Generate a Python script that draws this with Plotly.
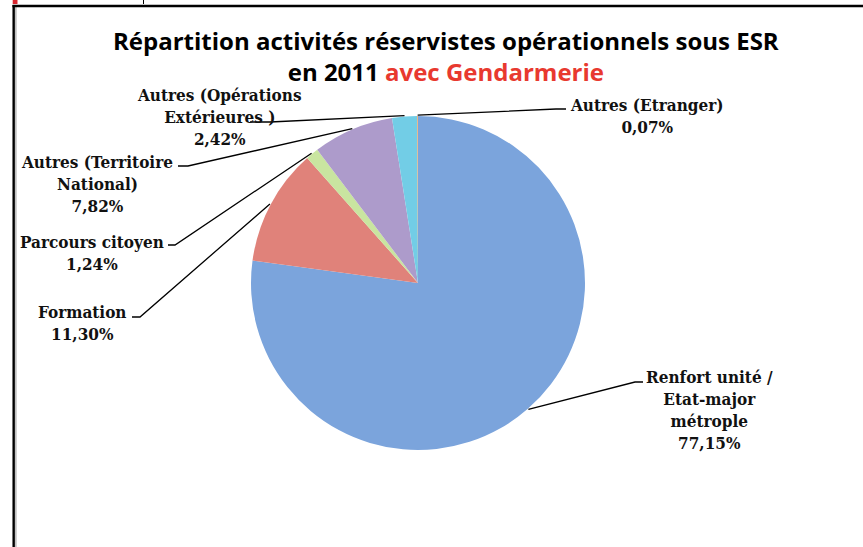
import math
import plotly.graph_objects as go

# ---- data ----
categories = [
    "Renfort unité /<br>Etat-major<br>métrople",
    "Formation",
    "Parcours citoyen",
    "Autres (Territoire<br>National)",
    "Autres (Opérations<br>Extérieures )",
    "Autres (Etranger)",
]
values = [77.15, 11.30, 1.24, 7.82, 2.42, 0.07]
value_labels = ["77,15%", "11,30%", "1,24%", "7,82%", "2,42%", "0,07%"]
colors = ["#7BA4DC", "#E0827A", "#C9E5A0", "#AD9BCB", "#72CDE6", "#F5A25A"]

W, H = 863, 547
CX, CY, R = 418, 283, 167  # pie centre / radius in pixels

def px(x):
    return x / W

def py(y):
    return 1 - y / H

fig = go.Figure(go.Pie(
    labels=[c.replace("<br>", " ") for c in categories],
    values=values,
    sort=False,
    direction="clockwise",
    rotation=0,
    marker=dict(colors=colors, line=dict(width=0)),
    textinfo="none",
    hoverinfo="skip",
    domain=dict(x=[px(CX - R), px(CX + R)], y=[py(CY + R), py(CY - R)]),
    showlegend=False,
))

# label placement (centre x, centre y of text block) and leader-line elbow points
label_pos = [
    (709, 410), (82, 323), (92, 253), (97, 184), (219, 117), (647, 116),
]
elbows = [
    [(643, 382), (635, 382)],
    [(132, 317), (140, 317)],
    [(168, 245), (175, 245)],
    [(178, 166), (188, 166)],
    [(250, 122), (270, 122)],
    [(566, 109), (556, 109)],
]

total = sum(values)
cum = 0.0
shapes = []
annotations = []
for i, v in enumerate(values):
    mid = (cum + v / 2) / total * 2 * math.pi
    cum += v
    ex = CX + R * 1.005 * math.sin(mid)
    ey = CY - R * 1.005 * math.cos(mid)
    (ax0, ay0), (ax1, ay1) = elbows[i]
    path = f"M {px(ax0)},{py(ay0)} L {px(ax1)},{py(ay1)} L {px(ex)},{py(ey)}"
    shapes.append(dict(type="path", path=path, xref="paper", yref="paper",
                       line=dict(color="#000000", width=1.3)))
    lx, ly = label_pos[i]
    annotations.append(dict(
        text=f"{categories[i]}<br>{value_labels[i]}",
        x=px(lx), y=py(ly), xref="paper", yref="paper",
        xanchor="center", yanchor="middle", showarrow=False, align="center",
        font=dict(family="DejaVu Serif Condensed, Liberation Serif, serif",
                  size=17, color="#111111", weight="bold"),
    ))

# page frame of the screenshot
shapes += [
    dict(type="line", xref="paper", yref="paper", x0=px(13.7), x1=px(13.7), y0=py(5), y1=py(547),
         line=dict(color="black", width=2.5)),
    dict(type="line", xref="paper", yref="paper", x0=px(15.8), x1=px(15.8), y0=py(7), y1=py(547),
         line=dict(color="#c0c0c0", width=1.8)),
    dict(type="line", xref="paper", yref="paper", x0=px(12.5), x1=1, y0=py(6), y1=py(6),
         line=dict(color="black", width=2.5)),
    dict(type="rect", xref="paper", yref="paper", x0=px(12.7), x1=px(17.5), y0=py(0), y1=py(4),
         line=dict(width=0), fillcolor="#d8262e"),
    dict(type="line", xref="paper", yref="paper", x0=px(143.5), x1=px(143.5), y0=py(0), y1=py(4),
         line=dict(color="black", width=1)),
]

annotations.append(dict(
    text="Répartition activités réservistes opérationnels sous ESR<br>"
         "en 2011 <span style='color:#E8392F'>avec Gendarmerie</span>",
    x=px(446), y=py(56), xref="paper", yref="paper", xanchor="center", yanchor="middle",
    showarrow=False, align="center",
    font=dict(family="Open Sans, Lato, sans-serif", size=24, color="#000000", weight="bold"),
))

fig.update_layout(
    width=W, height=H,
    margin=dict(l=0, r=0, t=0, b=0),
    paper_bgcolor="white", plot_bgcolor="white",
    shapes=shapes, annotations=annotations,
    showlegend=False,
)

fig.write_html("out.html",
               config={"displayModeBar": False},
               post_script="document.body.style.margin='0';document.body.style.overflow='hidden';")
